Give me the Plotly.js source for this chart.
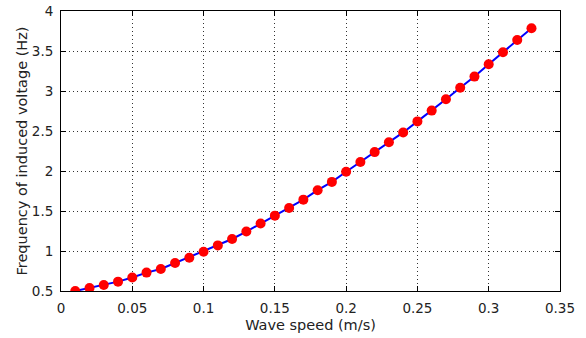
<!DOCTYPE html>
<html>
<head>
<meta charset="utf-8">
<script src="https://cdn.plot.ly/plotly-3.0.1.min.js"></script>
<style>html,body{margin:0;padding:0;background:#fff;}#chart{width:586px;height:338px;}</style>
</head>
<body>
<div id="chart"></div>
<script>
const waveSpeed = [0.01,0.02,0.03,0.04,0.05,0.06,0.07,0.08,0.09,0.10,0.11,0.12,0.13,0.14,0.15,0.16,0.17,0.18,0.19,0.20,0.21,0.22,0.23,0.24,0.25,0.26,0.27,0.28,0.29,0.30,0.31,0.32,0.33];
const frequency = [0.50,0.538,0.575,0.617,0.668,0.73,0.775,0.85,0.915,0.99,1.07,1.15,1.243,1.343,1.442,1.537,1.642,1.76,1.864,1.99,2.112,2.236,2.36,2.482,2.62,2.755,2.896,3.04,3.18,3.334,3.484,3.638,3.784];
const xTicks = [0,0.05,0.1,0.15,0.2,0.25,0.3,0.35];
const xTickText = ['0','0.05','0.1','0.15','0.2','0.25','0.3','0.35'];
const yTicks = [0.5,1,1.5,2,2.5,3,3.5,4];
const yTickText = ['0.5','1','1.5','2','2.5','3','3.5','4'];

const fam = '"DejaVu Sans", Verdana, sans-serif';
const tickFont = {family:fam, size:13.5, color:'#222'};
const titleFont = {family:fam, size:14.5, color:'#222'};
const traces = [
  {x:waveSpeed, y:frequency, mode:'lines', line:{color:'#0000ff', width:2}, hoverinfo:'none'},
  {x:waveSpeed, y:frequency, mode:'markers', marker:{color:'#ff0000', size:10, line:{width:0}}, hoverinfo:'none'}
];
const axisCommon = {
  showline:true, linecolor:'#000', linewidth:1, mirror:'ticks',
  ticks:'inside', ticklen:5, tickcolor:'#000', tickwidth:1,
  showgrid:true, gridcolor:'#333', gridwidth:1, griddash:'1px,3px',
  zeroline:false, tickfont:tickFont, tickmode:'array'
};
const layout = {
  width:586, height:338,
  margin:{l:61, r:26, t:11, b:47},
  paper_bgcolor:'#fff', plot_bgcolor:'#fff',
  showlegend:false,
  font:tickFont,
  xaxis:Object.assign({}, axisCommon, {
    range:[0,0.35], tickvals:xTicks, ticktext:xTickText, ticklabelstandoff:5,
    title:{text:'Wave speed (m/s)', font:titleFont, standoff:4}
  }),
  yaxis:Object.assign({}, axisCommon, {
    range:[0.5,4], tickvals:yTicks, ticktext:yTickText, ticklabelstandoff:4,
    title:{text:'Frequency of induced voltage (Hz)', font:titleFont, standoff:0}
  })
};
Plotly.newPlot('chart', traces, layout, {staticPlot:true, displayModeBar:false});
</script>
</body>
</html>
